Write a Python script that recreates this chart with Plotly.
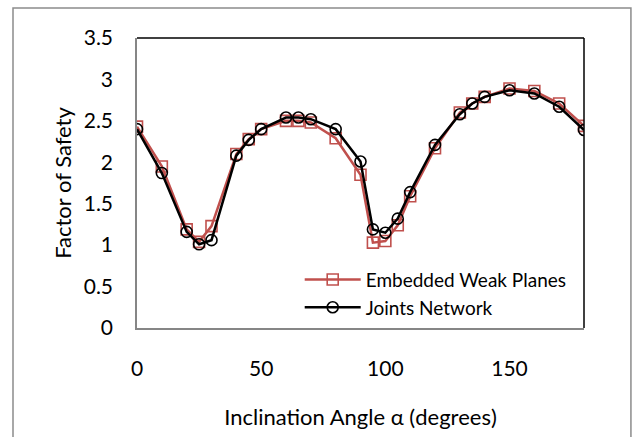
import plotly.graph_objects as go

angles = [0, 10, 20, 25, 30, 40, 45, 50, 60, 65, 70, 80, 90, 95, 100, 105, 110,
          120, 130, 135, 140, 150, 160, 170, 180]
embedded_weak_planes = [2.43, 1.95, 1.19, 1.04, 1.23, 2.10, 2.28, 2.40, 2.50, 2.50,
                        2.48, 2.29, 1.85, 1.03, 1.05, 1.24, 1.59, 2.17, 2.60, 2.71,
                        2.79, 2.89, 2.86, 2.71, 2.44]
joints_network = [2.40, 1.87, 1.16, 1.01, 1.06, 2.08, 2.27, 2.40, 2.54, 2.54,
                  2.52, 2.40, 2.01, 1.19, 1.15, 1.32, 1.64, 2.21, 2.58, 2.71,
                  2.79, 2.87, 2.83, 2.67, 2.39]

x_ticks = [0, 50, 100, 150]
y_ticks = [0, 0.5, 1, 1.5, 2, 2.5, 3, 3.5]

FONT = "Lato"
RED = "#C0504D"

fig = go.Figure()
fig.add_trace(go.Scatter(
    x=angles, y=embedded_weak_planes, name="Embedded Weak Planes",
    mode="lines+markers",
    line=dict(color=RED, width=2.5),
    marker=dict(symbol="square-open", size=11, color=RED, line=dict(width=1.6, color=RED)),
))
fig.add_trace(go.Scatter(
    x=angles, y=joints_network, name="Joints Network",
    mode="lines+markers",
    line=dict(color="black", width=2.5),
    marker=dict(symbol="circle-open", size=11, color="black", line=dict(width=1.6, color="black")),
))

fig.update_layout(
    width=634, height=437,
    margin=dict(l=137, r=50, t=38, b=109, autoexpand=False),
    paper_bgcolor="white", plot_bgcolor="white",
    font=dict(family=FONT, size=21, color="black"),
    showlegend=True,
    legend=dict(x=0.364, y=0.232, xanchor="left", yanchor="top",
                bgcolor="rgba(0,0,0,0)", font=dict(family=FONT, size=19),
                tracegroupgap=0, itemwidth=56),
    xaxis=dict(range=[0, 180], tickvals=x_ticks, ticktext=[str(v) for v in x_ticks],
               showgrid=False, zeroline=False, showline=True, linecolor="#868686",
               linewidth=1.5, ticks="", ticklabelstandoff=21,
               title=dict(text="Inclination Angle α (degrees)", standoff=31,
                          font=dict(family=FONT, size=22))),
    yaxis=dict(range=[0, 3.5], tickvals=y_ticks, ticktext=[("%g" % v) for v in y_ticks],
               showgrid=False, zeroline=False, showline=True, linecolor="#868686",
               linewidth=1.5, ticks="", ticklabelstandoff=18,
               title=dict(text="Factor of Safety", standoff=6,
                          font=dict(family=FONT, size=22))),
    shapes=[
        dict(type="line", xref="paper", yref="paper", x0=0, x1=1, y0=1, y1=1,
             line=dict(color="black", width=1.5)),
        dict(type="line", xref="paper", yref="paper", x0=1, x1=1, y0=0, y1=1,
             line=dict(color="black", width=1.5)),
        dict(type="rect", xref="paper", yref="paper", x0=-0.2774, x1=1.105,
             y0=-0.38, y1=1.1034, line=dict(color="#8C8C8C", width=1.5),
             fillcolor="rgba(0,0,0,0)", layer="below"),
    ],
)

fig.write_html("out.html", config={"displayModeBar": False},
               post_script="document.body.style.margin='0';")
